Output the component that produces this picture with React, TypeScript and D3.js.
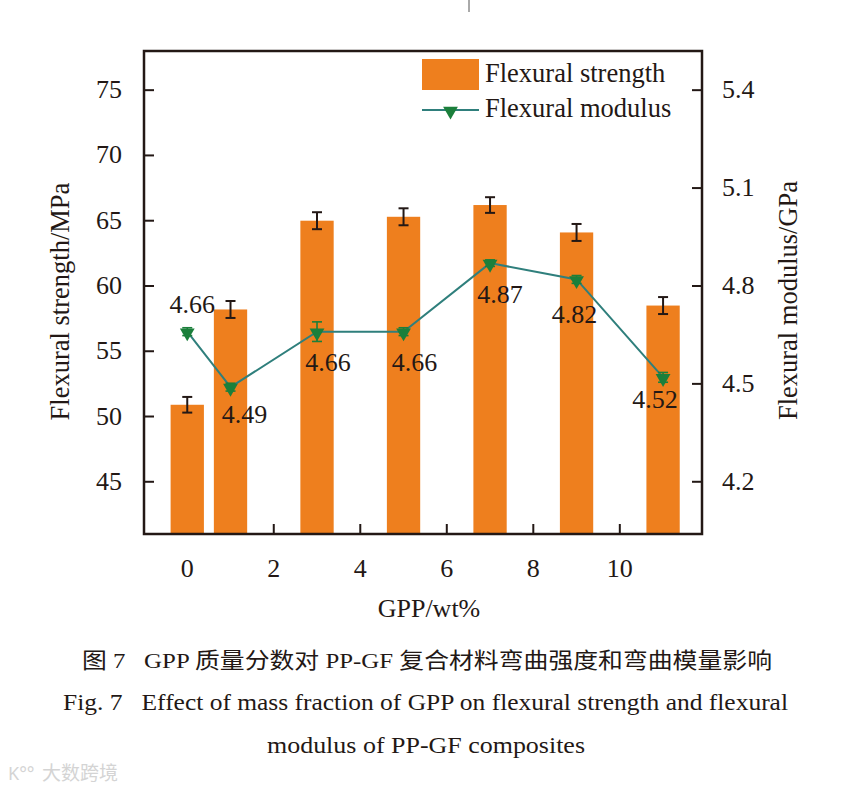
import React from 'react'
import * as d3 from 'd3'

// GPP content (wt%) of each sample
const gppContent = [0, 1, 3, 5, 7, 9, 11]
// flexural strength (MPa) and its error
const strength = [50.9, 58.2, 65.0, 65.3, 66.2, 64.1, 58.5]
const strengthErr = [0.6, 0.65, 0.65, 0.65, 0.6, 0.65, 0.65]
// flexural modulus (GPa) and its error
const modulus = [4.66, 4.49, 4.66, 4.66, 4.87, 4.82, 4.52]
const modulusErr = [0.012, 0.012, 0.03, 0.012, 0.01, 0.012, 0.015]

const xTicks = [0, 2, 4, 6, 8, 10]
const leftTicks = [45, 50, 55, 60, 65, 70, 75]
const rightTicks = [4.2, 4.5, 4.8, 5.1, 5.4]

// where each value label sits relative to its marker
const labelOffsets = [
  [5, -19],
  [14, 36],
  [11, 39],
  [11, 39],
  [10, 40],
  [-2, 44],
  [-8, 31],
]

const W = 853
const H = 790
const margin = { top: 51, right: 151, bottom: 256, left: 144 }

const ORANGE = '#ee7f1e'
const GREEN = '#1b7f3b'
const TEAL = '#2f7f7c'
const INK = '#231815'
const SERIF = '"Liberation Serif", "Times New Roman", serif'
const serif = { fontFamily: SERIF }

export default function App() {
  const innerW = W - margin.left - margin.right
  const innerH = H - margin.top - margin.bottom
  const x = d3.scaleLinear().domain([-1, 11.9]).range([0, innerW])
  const yL = d3.scaleLinear().domain([41, 78]).range([innerH, 0])
  const yR = d3.scaleLinear().domain([4.04, 5.52]).range([innerH, 0])
  const barW = x(0.77) - x(0)

  const line = d3
    .line<number>()
    .x((_, i) => x(gppContent[i]))
    .y((d) => yR(d))

  const tri = d3.symbol(d3.symbolTriangle, 95)()
  const tick = 10

  return (
    <svg
      width={W}
      height={H}
      style={{ position: 'absolute', left: 0, top: 0, background: '#fff' }}
    >
      <line x1={469} x2={469} y1={0} y2={12} stroke="#555" strokeWidth={1} />
      <g transform={`translate(${margin.left},${margin.top})`}>
        {/* inward ticks */}
        {xTicks.map((t) => (
          <g key={'x' + t}>
            <line x1={x(t)} x2={x(t)} y1={innerH} y2={innerH - tick} stroke={INK} strokeWidth={2} />
            <text x={x(t)} y={innerH + 43} textAnchor="middle" fontSize={26} fill={INK} style={serif}>
              {t}
            </text>
          </g>
        ))}
        {leftTicks.map((t) => (
          <g key={'l' + t}>
            <line x1={0} x2={tick} y1={yL(t)} y2={yL(t)} stroke={INK} strokeWidth={2} />
            <text x={-22} y={yL(t) + 8} textAnchor="end" fontSize={26} fill={INK} style={serif}>
              {t}
            </text>
          </g>
        ))}
        {rightTicks.map((t) => (
          <g key={'r' + t}>
            <line x1={innerW} x2={innerW - tick} y1={yR(t)} y2={yR(t)} stroke={INK} strokeWidth={2} />
            <text x={innerW + 20} y={yR(t) + 8} textAnchor="start" fontSize={26} fill={INK} style={serif}>
              {t.toFixed(1)}
            </text>
          </g>
        ))}

        {/* bars */}
        {strength.map((v, i) => (
          <rect
            key={'b' + i}
            x={x(gppContent[i]) - barW / 2}
            y={yL(v)}
            width={barW}
            height={innerH - yL(v)}
            fill={ORANGE}
          />
        ))}
        {strength.map((v, i) => {
          const cx = x(gppContent[i])
          const y1 = yL(v + strengthErr[i])
          const y2 = yL(v - strengthErr[i])
          return (
            <g key={'e' + i} stroke={INK} strokeWidth={2}>
              <line x1={cx} x2={cx} y1={y1} y2={y2} />
              <line x1={cx - 5} x2={cx + 5} y1={y1} y2={y1} />
              <line x1={cx - 5} x2={cx + 5} y1={y2} y2={y2} />
            </g>
          )
        })}

        {/* modulus line */}
        <path d={line(modulus) || ''} fill="none" stroke={TEAL} strokeWidth={2} />
        {modulus.map((v, i) => {
          const cx = x(gppContent[i])
          const y1 = yR(v + modulusErr[i])
          const y2 = yR(v - modulusErr[i])
          return (
            <g key={'m' + i}>
              <g stroke={GREEN} strokeWidth={1.6}>
                <line x1={cx} x2={cx} y1={y1} y2={y2} />
                <line x1={cx - 5} x2={cx + 5} y1={y1} y2={y1} />
                <line x1={cx - 5} x2={cx + 5} y1={y2} y2={y2} />
              </g>
              <path d={tri} transform={`translate(${cx},${yR(v) + 1}) rotate(180)`} fill={GREEN} />
              <text
                x={cx + labelOffsets[i][0]}
                y={yR(v) + labelOffsets[i][1]}
                textAnchor="middle"
                fontSize={26}
                fill={INK}
                style={serif}
              >
                {v.toFixed(2)}
              </text>
            </g>
          )
        })}

        {/* frame */}
        <rect x={0} y={0} width={innerW} height={innerH} fill="none" stroke={INK} strokeWidth={2.5} />

        {/* legend */}
        <g transform={`translate(${278},0)`}>
          <rect x={0} y={8} width={57} height={31} fill={ORANGE} />
          <text x={63} y={31} fontSize={26.5} fill={INK} style={serif}>
            Flexural strength
          </text>
          <line x1={0} x2={57} y1={59} y2={59} stroke={TEAL} strokeWidth={2} />
          <path d={tri} transform={`translate(28.5,60) rotate(180)`} fill={GREEN} />
          <text x={63} y={66} fontSize={26.5} fill={INK} style={serif}>
            Flexural modulus
          </text>
        </g>

        {/* axis titles */}
        <text
          transform={`translate(${69 - margin.left},${innerH / 2 + 9}) rotate(-90)`}
          textAnchor="middle"
          fontSize={26.5}
          fill={INK}
          style={serif}
        >
          Flexural strength/MPa
        </text>
        <text
          transform={`translate(${797 - margin.left},${innerH / 2 + 8}) rotate(-90)`}
          textAnchor="middle"
          fontSize={26.5}
          fill={INK}
          style={serif}
        >
          Flexural modulus/GPa
        </text>
        <text x={innerW / 2 + 6} y={innerH + 83} textAnchor="middle" fontSize={26} fill={INK} style={serif}>
          GPP/wt%
        </text>
      </g>

      {/* caption */}
      <text
        x={82}
        y={668}
        fontSize={22}
        fill={INK}
        style={{ fontFamily: '"Liberation Serif", "Noto Sans CJK SC", sans-serif' }}
        textLength={690}
        lengthAdjust="spacingAndGlyphs"
        xmlSpace="preserve"
      >
        {'图 7   GPP 质量分数对 PP-GF 复合材料弯曲强度和弯曲模量影响'}
      </text>
      <text x={63} y={710} fontSize={24} fill={INK} style={serif} textLength={725} lengthAdjust="spacingAndGlyphs" xmlSpace="preserve">
        {'Fig. 7   Effect of mass fraction of GPP on flexural strength and flexural'}
      </text>
      <text x={267} y={753} fontSize={24} fill={INK} style={serif} textLength={318} lengthAdjust="spacingAndGlyphs">
        modulus of PP-GF composites
      </text>
      <text x={42} y={780} fontSize={19} fill="#d4d4d4" style={{ fontFamily: '"Noto Sans CJK SC", sans-serif' }}>
        大数跨境
      </text>
      <text x={8} y={780} fontSize={18} fill="#d4d4d4" style={{ fontFamily: '"Noto Sans", sans-serif' }}>
        K°°
      </text>
    </svg>
  )
}
